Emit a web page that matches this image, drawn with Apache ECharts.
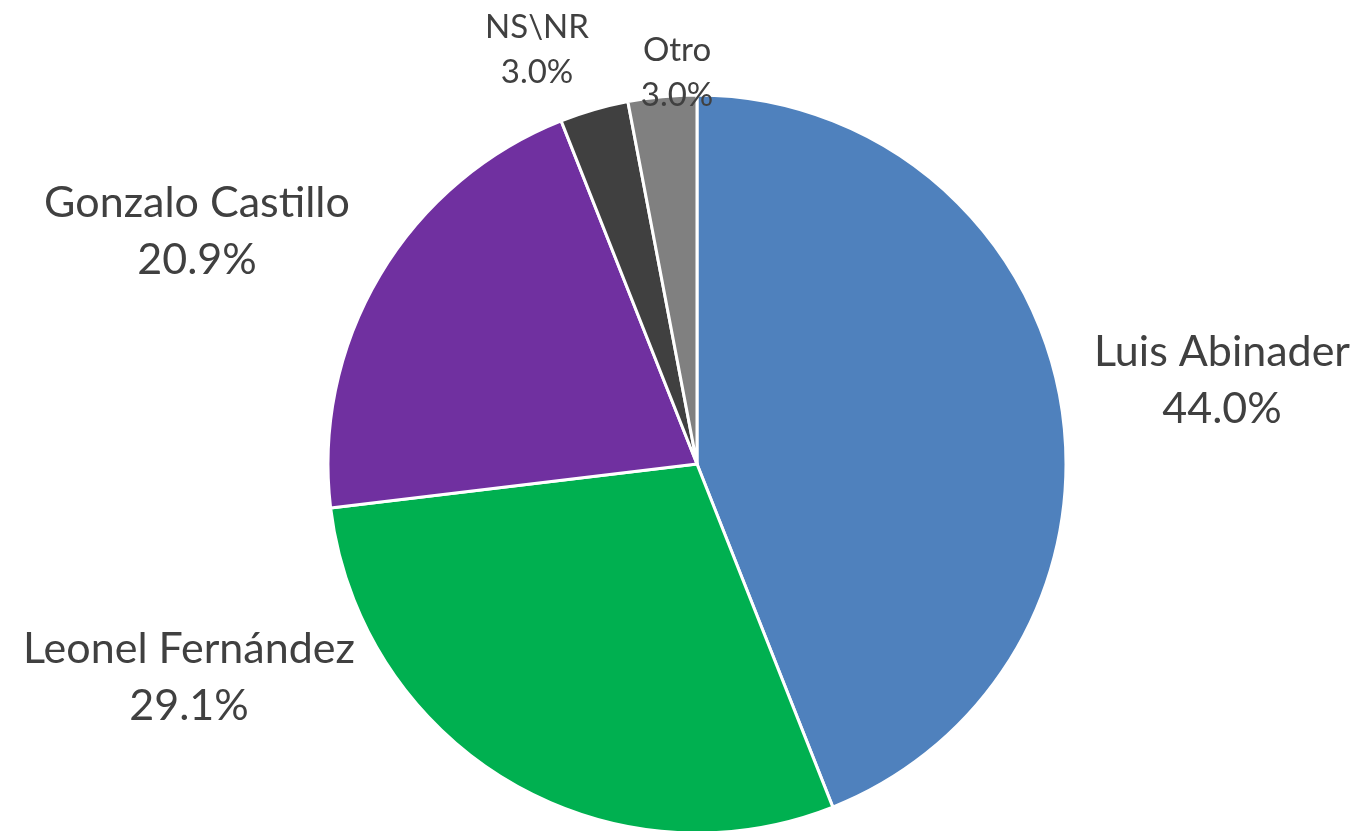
<!DOCTYPE html>
<html>
<head>
<meta charset="utf-8">
<script src="https://cdn.jsdelivr.net/npm/echarts@6/dist/echarts.min.js"></script>
<style>
    html, body { margin: 0; padding: 0; background: #fff; }
    #chart { width: 1364px; height: 831px; }
</style>
</head>
<body>
<div id="chart"></div>
<script>
// data
var names = ['Luis Abinader', 'Leonel Fernández', 'Gonzalo Castillo', 'NS\\NR', 'Otro'];
var values = [44.0, 29.1, 20.9, 3.0, 3.0];
var colors = ['#4F81BD', '#00B050', '#7030A0', '#404040', '#808080'];

// where each label sits (pixel centre of the text block)
var labelPos = [[1222, 381], [189, 678], [197, 232], [537, 50], [677, 73]];

var myChart = echarts.init(document.getElementById('chart'));

var data = [];
for (var i = 0; i < names.length; i++) {
    var small = values[i] < 5;
    data.push({
        name: names[i],
        value: values[i],
        itemStyle: {color: colors[i]},
        label: {
            fontSize: small ? 33 : 43,
            lineHeight: small ? 45 : 57
        }
    });
}

var options = {
    animation: false,
    series: [{
        type: 'pie',
        center: [697, 464],
        radius: 369,
        startAngle: 90,
        clockwise: true,
        itemStyle: {
            borderColor: '#ffffff',
            borderWidth: 3
        },
        label: {
            show: true,
            position: 'outside',
            color: '#404040',
            fontFamily: 'Lato',
            align: 'center',
            overflow: 'none',
            formatter: function (p) {
                return p.name + '\n' + p.value.toFixed(1) + '%';
            }
        },
        labelLine: {show: false},
        labelLayout: function (params) {
            var pos = labelPos[params.dataIndex];
            return {
                x: pos[0],
                y: pos[1],
                align: 'center',
                verticalAlign: 'middle'
            };
        },
        emphasis: {disabled: true},
        data: data
    }]
};

myChart.setOption(options);
</script>
</body>
</html>
